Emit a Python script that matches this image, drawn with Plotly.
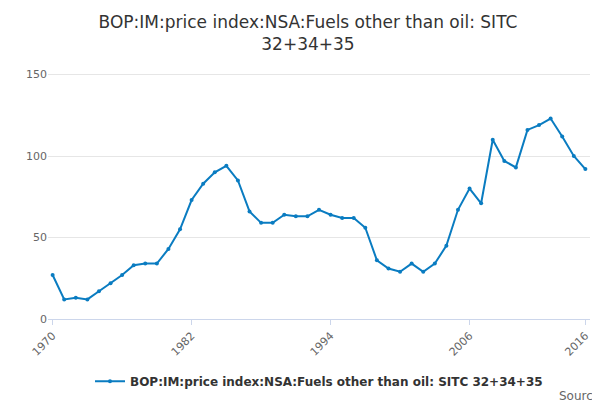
import plotly.graph_objects as go

years = list(range(1970, 2017))
values = [27, 12, 13, 12, 17, 22, 27, 33, 34, 34, 43, 55, 73, 83, 90, 94, 85, 66,
          59, 59, 64, 63, 63, 67, 64, 62, 62, 56, 36, 31, 29, 34, 29, 34, 45, 67,
          80, 71, 110, 97, 93, 116, 119, 123, 112, 100, 92]

name = "<b>BOP:IM:price index:NSA:Fuels other than oil: SITC 32+34+35</b>"

fig = go.Figure()
fig.add_trace(go.Scatter(
    x=years, y=values, mode="lines+markers", name=name,
    line=dict(color="#0a7cc1", width=2),
    marker=dict(size=4, color="#0a7cc1"),
))

fig.update_layout(
    width=600, height=400,
    font=dict(family="DejaVu Sans", color="#333"),
    title=dict(text="BOP:IM:price index:NSA:Fuels other than oil: SITC<br>32+34+35",
               x=0.5, y=0.95, font=dict(size=17)),
    plot_bgcolor="white", paper_bgcolor="white",
    margin=dict(l=40, r=18, t=60, b=89),
    showlegend=True,
    legend=dict(orientation="h", x=0.5, xanchor="center", y=-0.19, font=dict(size=12)),
    xaxis=dict(tickvals=[1970, 1982, 1994, 2006, 2016], tickangle=-45,
               range=[1969.6, 2016.4], showgrid=False, showline=True,
               linecolor="#ccd6eb", ticks="outside", tickcolor="#ccd6eb",
               tickfont=dict(size=11, color="#666")),
    yaxis=dict(range=[0, 154], tickvals=[0, 50, 100, 150], gridcolor="#e6e6e6",
               zeroline=False, tickfont=dict(size=11, color="#666")),
)
fig.add_annotation(text="Source:", xref="paper", yref="paper", x=1.03, y=-0.27,
                   xanchor="right", yanchor="top", showarrow=False,
                   font=dict(size=12, color="#666"))

fig.write_html("out.html")
